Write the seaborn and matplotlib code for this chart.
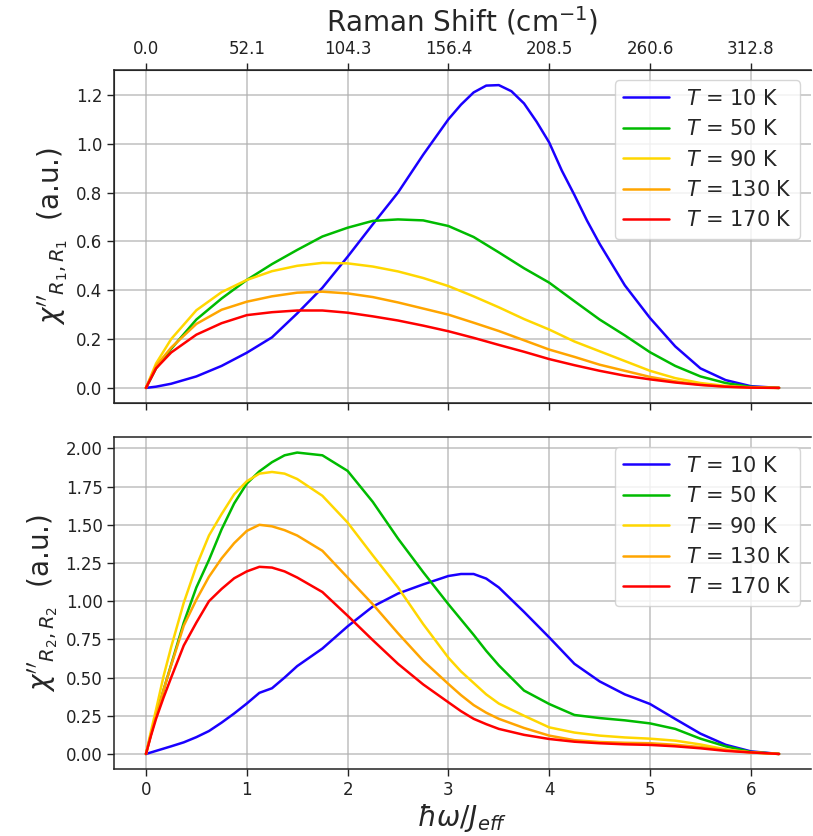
import numpy as np
import pandas as pd
import matplotlib
matplotlib.use("Agg")
import matplotlib.pyplot as plt
import seaborn as sns

# ---------------- data ----------------
temps = ["$T$ = 10 K", "$T$ = 50 K", "$T$ = 90 K", "$T$ = 130 K", "$T$ = 170 K"]
colors = ["#1a00ff", "#00bb00", "#ffd700", "#ffa500", "#ff0000"]

# top panel  chi''_{R1,R1}
x_top = [0, 0.1, 0.25, 0.5, 0.75, 1.0, 1.25, 1.5, 1.75, 2.0, 2.25, 2.5, 2.75,
         3.0, 3.25, 3.5, 3.75, 4.0, 4.25, 4.5, 4.75, 5.0, 5.25, 5.5, 5.75, 6.0, 6.28]
x_top_T10 = [0, 0.1, 0.25, 0.5, 0.75, 1.0, 1.25, 1.5, 1.75, 2.0, 2.25, 2.5, 2.75,
             3.0, 3.125, 3.25, 3.375, 3.5, 3.625, 3.75, 3.875, 4.0, 4.125, 4.25, 4.375,
             4.5, 4.75, 5.0, 5.25, 5.5, 5.75, 6.0, 6.28]
r1_T10 = [0, 0.005, 0.017, 0.047, 0.09, 0.144, 0.207, 0.305, 0.41, 0.537, 0.67, 0.80, 0.955,
          1.10, 1.16, 1.21, 1.238, 1.24, 1.215, 1.165, 1.09, 1.005, 0.89, 0.79, 0.685,
          0.59, 0.42, 0.286, 0.17, 0.08, 0.032, 0.007, 0]
r1_T50 = [0, 0.08, 0.16, 0.28, 0.366, 0.442, 0.507, 0.565, 0.62, 0.656, 0.684, 0.69, 0.686,
          0.663, 0.618, 0.555, 0.49, 0.431, 0.355, 0.28, 0.215, 0.146, 0.09, 0.047, 0.02, 0.004, 0]
r1_T90 = [0, 0.1, 0.2, 0.318, 0.392, 0.442, 0.478, 0.5, 0.512, 0.51, 0.497, 0.477, 0.45,
          0.417, 0.375, 0.33, 0.282, 0.239, 0.19, 0.15, 0.11, 0.07, 0.04, 0.02, 0.008, 0.002, 0]
r1_T130 = [0, 0.09, 0.165, 0.262, 0.32, 0.353, 0.375, 0.39, 0.394, 0.387, 0.372, 0.35, 0.325,
           0.30, 0.267, 0.233, 0.195, 0.157, 0.127, 0.095, 0.07, 0.045, 0.027, 0.013, 0.005, 0.001, 0]
r1_T170 = [0, 0.08, 0.145, 0.218, 0.265, 0.298, 0.31, 0.317, 0.317, 0.308, 0.293, 0.276, 0.255,
           0.232, 0.205, 0.176, 0.148, 0.118, 0.093, 0.07, 0.05, 0.035, 0.022, 0.012, 0.005, 0.001, 0]

# bottom panel  chi''_{R2,R2}
x_bot = [0, 0.05, 0.1, 0.175, 0.25, 0.375, 0.5, 0.625, 0.75, 0.875, 1.0, 1.125, 1.25, 1.375,
         1.5, 1.75, 2.0, 2.25, 2.5, 2.75, 3.0, 3.125, 3.25, 3.375, 3.5, 3.75, 4.0, 4.25,
         4.5, 4.75, 5.0, 5.25, 5.5, 5.75, 6.0, 6.28]
r2_T10 = [0, 0.01, 0.02, 0.035, 0.05, 0.076, 0.11, 0.15, 0.205, 0.265, 0.33, 0.40, 0.43, 0.50,
          0.575, 0.69, 0.835, 0.965, 1.05, 1.11, 1.165, 1.178, 1.178, 1.148, 1.09, 0.93, 0.763,
          0.59, 0.475, 0.39, 0.327, 0.229, 0.133, 0.06, 0.017, 0]
r2_T50 = [0, 0.13, 0.25, 0.42, 0.585, 0.86, 1.09, 1.27, 1.47, 1.64, 1.77, 1.85, 1.91, 1.955,
          1.973, 1.955, 1.853, 1.65, 1.41, 1.19, 0.98, 0.88, 0.78, 0.675, 0.58, 0.415, 0.327,
          0.255, 0.235, 0.22, 0.20, 0.164, 0.10, 0.05, 0.013, 0]
r2_T90 = [0, 0.15, 0.29, 0.51, 0.70, 0.99, 1.23, 1.43, 1.57, 1.70, 1.785, 1.835, 1.846, 1.835,
          1.80, 1.69, 1.515, 1.30, 1.09, 0.85, 0.63, 0.54, 0.465, 0.39, 0.33, 0.25, 0.174,
          0.14, 0.12, 0.108, 0.10, 0.087, 0.062, 0.03, 0.01, 0]
r2_T130 = [0, 0.13, 0.25, 0.42, 0.58, 0.84, 1.01, 1.16, 1.28, 1.38, 1.46, 1.50, 1.49, 1.465,
           1.43, 1.33, 1.155, 0.98, 0.79, 0.61, 0.458, 0.385, 0.32, 0.27, 0.23, 0.17, 0.12,
           0.09, 0.078, 0.073, 0.07, 0.06, 0.045, 0.025, 0.01, 0]
r2_T170 = [0, 0.12, 0.23, 0.37, 0.50, 0.71, 0.86, 1.0, 1.08, 1.15, 1.195, 1.225, 1.22, 1.195,
           1.155, 1.06, 0.905, 0.745, 0.59, 0.455, 0.338, 0.28, 0.23, 0.195, 0.164, 0.125, 0.098,
           0.08, 0.07, 0.063, 0.059, 0.05, 0.037, 0.02, 0.01, 0]

raman_ticks = [0, 1, 2, 3, 4, 5, 6]
raman_labels = ["0.0", "52.1", "104.3", "156.4", "208.5", "260.6", "312.8"]
x_ticks = [0, 1, 2, 3, 4, 5, 6]
top_yticks = [0.0, 0.2, 0.4, 0.6, 0.8, 1.0, 1.2]
top_ylabels = ["0.0", "0.2", "0.4", "0.6", "0.8", "1.0", "1.2"]
bot_yticks = [0.0, 0.25, 0.5, 0.75, 1.0, 1.25, 1.5, 1.75, 2.0]
bot_ylabels = ["0.00", "0.25", "0.50", "0.75", "1.00", "1.25", "1.50", "1.75", "2.00"]


def long_df(xs_list, series):
    rows = []
    for lab, xs, ys in zip(temps, xs_list, series):
        for xv, yv in zip(xs, ys):
            rows.append({"x": xv, "y": yv, "T": lab})
    return pd.DataFrame(rows)


df1 = long_df([x_top_T10, x_top, x_top, x_top, x_top],
              [r1_T10, r1_T50, r1_T90, r1_T130, r1_T170])
df2 = long_df([x_bot] * 5, [r2_T10, r2_T50, r2_T90, r2_T130, r2_T170])

# ---------------- plot ----------------
sns.set_style("white")
plt.rcParams["font.family"] = ["DejaVu Sans"]
plt.rcParams["mathtext.fontset"] = "dejavusans"

fig = plt.figure(figsize=(8.13, 8.36), dpi=100)
ax1 = fig.add_axes([0.1406, 0.5179, 0.8566, 0.3984])
ax2 = fig.add_axes([0.1406, 0.0801, 0.8566, 0.3972])

palette = dict(zip(temps, colors))
for ax, df in [(ax1, df1), (ax2, df2)]:
    sns.lineplot(data=df, x="x", y="y", hue="T", hue_order=temps, palette=palette,
                 linewidth=1.8, errorbar=None, ax=ax)
    ax.set_xlim(-0.314, 6.594)
    ax.set_xticks(x_ticks)
    ax.grid(True, color="#b0b0b0", linewidth=1.1, alpha=0.8)
    ax.tick_params(axis="both", direction="out", length=5, width=1, labelsize=12,
                   colors="#222222", bottom=True, left=True)
    for s in ["left", "bottom", "top"]:
        ax.spines[s].set_color("#222222")
        ax.spines[s].set_linewidth(1.1)
    ax.spines["right"].set_visible(False)
    ax.set_xlabel("")
    ax.legend(loc="upper right", fontsize=15, handlelength=2.2,
              frameon=True, framealpha=0.8, edgecolor="#cccccc")

ax1.set_ylim(-0.062, 1.302)
ax1.set_yticks(top_yticks)
ax1.set_yticklabels(top_ylabels)
ax1.set_xticklabels([])
ax1.set_ylabel(r"$\chi''_{R_1,R_1}$  (a.u.)", fontsize=20)

ax2.set_ylim(-0.0988, 2.075)
ax2.set_yticks(bot_yticks)
ax2.set_yticklabels(bot_ylabels)
ax2.set_xticklabels([str(t) for t in x_ticks])
ax2.set_ylabel(r"$\chi''_{R_2,R_2}$  (a.u.)", fontsize=20)
ax2.set_xlabel(r"$\hbar\omega/J_{eff}$", fontsize=20, labelpad=2)

top = ax1.twiny()
top.set_xlim(ax1.get_xlim())
top.set_xticks(raman_ticks)
top.set_xticklabels(raman_labels)
top.tick_params(axis="x", direction="out", length=5, width=1, labelsize=12, colors="#222222")
top.spines["right"].set_visible(False)
top.set_xlabel(r"Raman Shift (cm$^{-1}$)", fontsize=20, labelpad=6)

fig.savefig("out.png", dpi=100)
